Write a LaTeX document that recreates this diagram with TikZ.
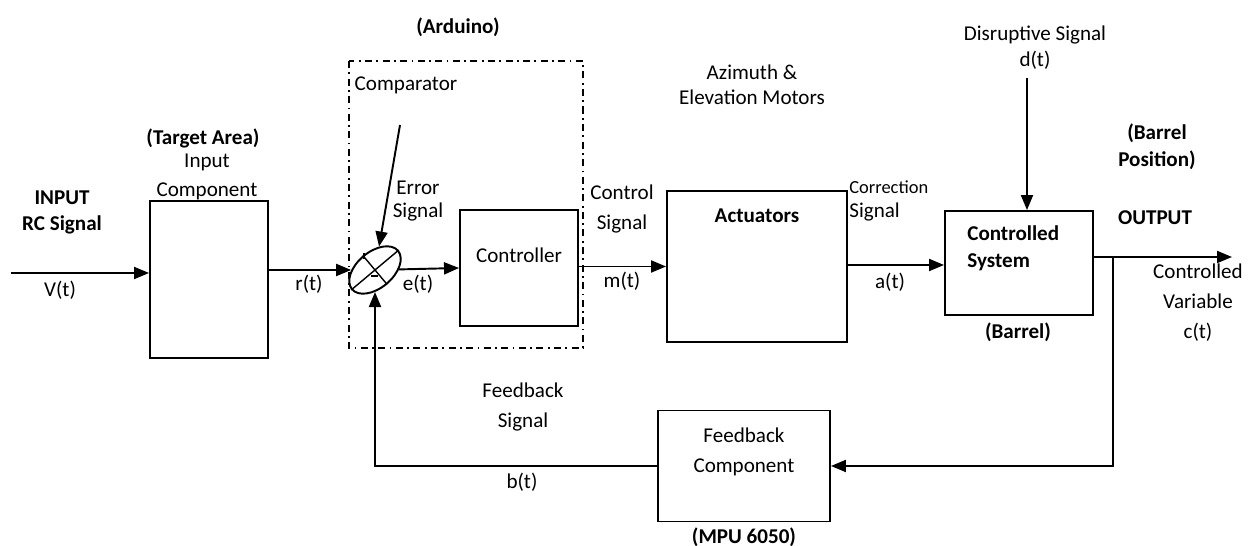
\documentclass[tikz,border=0pt]{standalone}
\usepackage{fontspec}
\setmainfont{Carlito}
\usetikzlibrary{shapes.geometric, arrows.meta}

\tikzset{
  blk/.style={draw, line width=1.1pt, inner sep=0pt},
  wire/.style={line width=1.1pt},
  sig/.style={wire, -{Triangle[length=0.3cm,width=0.24cm]}},
  lbl/.style={align=center, inner sep=0pt, font=\fontsize{12}{17}\selectfont},
  blbl/.style={align=center, inner sep=0pt, font=\fontsize{12}{17}\selectfont\bfseries},
}

\begin{document}
\begin{tikzpicture}[x=0.02cm, y=-0.02cm]
\useasboundingbox (0,0) rectangle (1249,546);

% blocks
\node[blk, minimum width=2.36cm, minimum height=3.14cm] (inp) at (209,279.5) {};
\node[blk, minimum width=2.36cm, minimum height=2.32cm] (ctrl) at (519,268) {};
\node[blk, minimum width=3.6cm, minimum height=3.02cm] (act) at (757,266.5) {};
\node[blk, minimum width=2.96cm, minimum height=2.08cm] (sys) at (1019,263) {};
\node[blk, minimum width=3.44cm, minimum height=2.22cm] (fb) at (744,466) {};

% arduino boundary
\draw[line width=1.1pt, dash pattern=on 4pt off 2.5pt on 1pt off 2.5pt] (349,61) rectangle (583,348);

% comparator
\node[draw, ellipse, line width=1.1pt, minimum width=1.2cm, minimum height=0.72cm,
      inner sep=0pt, rotate=40] (cmp) at (375,270) {};
\draw[line width=0.8pt] (cmp.west) -- (cmp.east);
\draw[line width=0.8pt] (cmp.north) -- (cmp.south);
\draw[line width=0.6pt] (364,253) -- (364,259);
\draw[line width=0.6pt] (371,276) -- (378,276);

% signal paths
\coordinate (vin) at (11,273);
\coordinate (cin) at (400,125);
\coordinate (dtop) at (1027,78);
\coordinate (cout) at (1232,257);
\coordinate (br) at (1113,257);

\draw[sig] (vin) -- (inp.west |- vin);
\draw[sig] (inp.east |- cmp) -- (cmp);
\draw[sig] (cin) -- (cmp);
\draw[sig] (cmp) -- (ctrl.west);
\draw[sig] (ctrl.east |- act.west) -- (act.west);
\draw[sig] (act.east |- 0,265) -- (sys.west |- 0,265);
\draw[sig] (dtop) -- (dtop |- sys.north);
\draw[sig] (sys.east |- cout) -- (cout);
\draw[sig] (br) |- (fb.east);
\draw[sig] (fb.west) -| (cmp);

% texts
\node[blbl] (inlbl) at (62,212) {INPUT\\[-2.2pt]RC Signal};
\node[lbl] (vlbl) at (60,290) {V(t)};
\node[blbl] (tgt) at (203,138) {(Target Area)};
\node[lbl] (inplbl) at (207,177) {Input\\Component};
\node[lbl] (rlbl) at (309,284) {r(t)};
\node[blbl] (ard) at (458,27) {(Arduino)};
\node[lbl] (cmplbl) at (406,85) {Comparator};
\node[lbl] (errlbl) at (418,201) {Error\\[-3.9pt]Signal};
\node[lbl] (elbl) at (418,284) {e(t)};
\node[lbl] (ctrltxt) at (519,255) {Controller};
\node[lbl] (ctllbl) at (622,209) {Control\\Signal};
\node[lbl] (mlbl) at (622,281) {m(t)};
\node[lbl] (azi) at (752,85) {Azimuth \&\\[-2.8pt]Elevation Motors};
\node[blbl] (acttxt) at (757,216) {Actuators};
\node[lbl, anchor=west, font=\fontsize{10.5}{12}\selectfont] (corr) at (849,187) {Correction};
\node[lbl, anchor=west] (corr2) at (849,212) {Signal};
\node[lbl] (albl) at (890,282) {a(t)};
\node[lbl] (dis) at (1035,48) {Disruptive Signal\\[-2.2pt]d(t)};
\node[blbl] (bpos) at (1157,147) {(Barrel\\[-1.6pt]Position)};
\node[blbl] (outlbl) at (1155,218) {OUTPUT};
\node[lbl] (cvar) at (1198,303) {Controlled\\Variable\\c(t)};
\node[blbl, align=left, anchor=west] (systxt) at (967,248) {Controlled\\[-1.6pt]System};
\node[blbl] (brl) at (1018,332) {(Barrel)};
\node[lbl] (fbsig) at (523,407) {Feedback\\Signal};
\node[lbl] (bt) at (522,482) {b(t)};
\node[lbl] (fbtxt) at (744,452) {Feedback\\Component};
\node[blbl] (mpu) at (744,537) {(MPU 6050)};

\end{tikzpicture}
\end{document}
